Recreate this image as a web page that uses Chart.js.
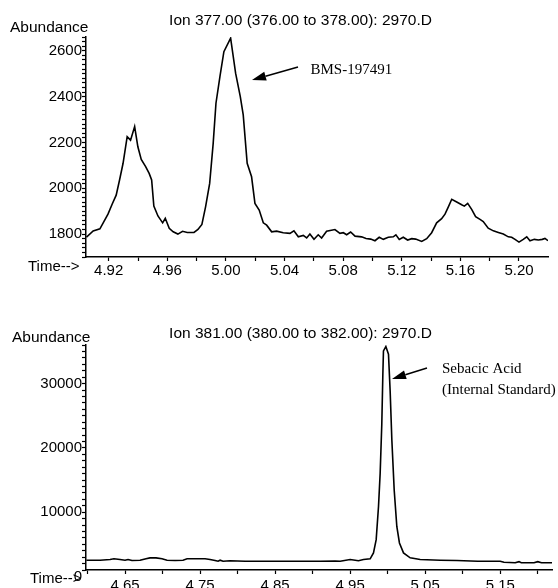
<!DOCTYPE html>
<html>
<head>
<meta charset="utf-8">
<script src="https://cdn.jsdelivr.net/npm/chart.js@4.4.0/dist/chart.umd.min.js"></script>
<style>
  html, body { margin: 0; padding: 0; background: #fff; }
  #wrap { position: relative; width: 558px; height: 588px; overflow: hidden; }
  .box { position: absolute; left: 0; width: 558px; }
  #box1 { top: 0; height: 290px; }
  #box2 { top: 290px; height: 298px; }
</style>
</head>
<body>
<div id="wrap">
  <div class="box" id="box1"><canvas id="ion377" width="558" height="290"></canvas></div>
  <div class="box" id="box2"><canvas id="ion381" width="558" height="298"></canvas></div>
</div>
<script>
// Ion 377 trace (BMS-197491)
const times377 = [4.9048, 4.9094, 4.9140, 4.9167, 4.9195, 4.9224, 4.9251, 4.9274, 4.9298, 4.9326,
    4.9349, 4.9377, 4.9399, 4.9422, 4.9452, 4.9476, 4.9493, 4.9508, 4.9536, 4.9568,
    4.9586, 4.9613, 4.9640, 4.9672, 4.9704, 4.9736, 4.9782, 4.9809, 4.9836, 4.9861,
    4.9889, 4.9913, 4.9932, 4.9959, 4.9986, 5.0032, 5.0066, 5.0098, 5.0118, 5.0145,
    5.0175, 5.0198, 5.0227, 5.0255, 5.0278, 5.0312, 5.0346, 5.0391, 5.0437, 5.0464,
    5.0494, 5.0528, 5.0551, 5.0573, 5.0601, 5.0630, 5.0653, 5.0687, 5.0744, 5.0778,
    5.0801, 5.0824, 5.0851, 5.0881, 5.0926, 5.0956, 5.0988, 5.1017, 5.1046, 5.1074,
    5.1108, 5.1142, 5.1160, 5.1183, 5.1210, 5.1240, 5.1268, 5.1295, 5.1336, 5.1370,
    5.1404, 5.1438, 5.1472, 5.1495, 5.1518, 5.1541, 5.1575, 5.1609, 5.1627, 5.1650,
    5.1677, 5.1704, 5.1734, 5.1756, 5.1790, 5.1825, 5.1859, 5.1893, 5.1927, 5.1950,
    5.1973, 5.2000, 5.2029, 5.2053, 5.2075, 5.2105, 5.2132, 5.2159, 5.2177, 5.2198];
const abundance377 = [1786, 1814, 1823, 1854, 1887, 1931, 1970, 2036, 2109, 2225,
    2210, 2269, 2181, 2126, 2094, 2065, 2036, 1922, 1879, 1849,
    1869, 1825, 1810, 1800, 1812, 1807, 1807, 1820, 1842, 1919,
    2021, 2196, 2371, 2487, 2596, 2655, 2502, 2400, 2320, 2109,
    2050, 1934, 1905, 1849, 1839, 1810, 1813, 1806, 1803, 1814,
    1788, 1794, 1783, 1800, 1777, 1797, 1783, 1812, 1820, 1803,
    1806, 1797, 1809, 1791, 1788, 1781, 1778, 1771, 1786, 1777,
    1786, 1788, 1797, 1777, 1786, 1774, 1780, 1778, 1768, 1780,
    1806, 1849, 1867, 1887, 1919, 1952, 1940, 1928, 1922, 1934,
    1908, 1876, 1864, 1855, 1826, 1814, 1807, 1800, 1788, 1786,
    1777, 1765, 1777, 1788, 1771, 1777, 1774, 1777, 1781, 1771];

// Ion 381 trace (sebacic acid, internal standard)
const times381 = [4.5985, 4.6167, 4.6300, 4.6353, 4.6433, 4.6500, 4.6540, 4.6593, 4.6700, 4.6780,
    4.6833, 4.6913, 4.6993, 4.7060, 4.7167, 4.7273, 4.7327, 4.7433, 4.7567, 4.7633,
    4.7700, 4.7740, 4.7767, 4.7807, 4.7900, 4.8100, 4.8433, 4.8833, 4.9100, 4.9300,
    4.9367, 4.9500, 4.9611, 4.9678, 4.9767, 4.9811, 4.9847, 4.9878, 4.9900, 4.9922,
    4.9936, 4.9944, 4.9976, 5.0011, 5.0033, 5.0056, 5.0087, 5.0122, 5.0157, 5.0211,
    5.0300, 5.0433, 5.0700, 5.0923, 5.1200, 5.1500, 5.1550, 5.1700, 5.1750, 5.1780,
    5.1950, 5.2000, 5.2050, 5.2190];
const abundance381 = [2520, 2520, 2630, 2740, 2630, 2520, 2630, 2470, 2520, 2740,
    2890, 2890, 2740, 2520, 2470, 2520, 2740, 2740, 2740, 2630,
    2470, 2360, 2520, 2360, 2430, 2360, 2360, 2360, 2360, 2390,
    2365, 2630, 2430, 2630, 2740, 3660, 5720, 10870, 16030, 23760,
    31480, 35090, 35760, 34570, 28900, 21170, 13450, 7770, 5210, 3660,
    2890, 2630, 2520, 2470, 2360, 2360, 2200, 2120, 2300, 2120,
    2120, 2300, 2120, 2120];

const sansFont = '"Liberation Sans", Arial, sans-serif';
const serifFont = '"Liberation Serif", "Times New Roman", serif';

function toPoints(xs, ys) {
    return xs.map((x, i) => ({x: x, y: ys[i]}));
}

function drawArrow(ctx, x1, y1, x2, y2) {
    const ang = Math.atan2(y2 - y1, x2 - x1);
    const len = 14, half = 4.5;
    const bx = x2 - Math.cos(ang) * len, by = y2 - Math.sin(ang) * len;
    ctx.beginPath();
    ctx.lineWidth = 1.5;
    ctx.strokeStyle = '#000';
    ctx.moveTo(x1, y1);
    ctx.lineTo(bx, by);
    ctx.stroke();
    ctx.beginPath();
    ctx.fillStyle = '#000';
    ctx.moveTo(x2, y2);
    ctx.lineTo(bx - Math.sin(ang) * half, by + Math.cos(ang) * half);
    ctx.lineTo(bx + Math.sin(ang) * half, by - Math.cos(ang) * half);
    ctx.closePath();
    ctx.fill();
}

function decorPlugin(id, texts, arrows) {
    return {
        id: id,
        afterDraw(chart) {
            const ctx = chart.ctx;
            ctx.save();
            ctx.fillStyle = '#000';
            ctx.textBaseline = 'alphabetic';
            texts.forEach(t => {
                ctx.font = t.font;
                ctx.textAlign = t.align || 'left';
                ctx.fillText(t.text, t.x, t.y);
            });
            arrows.forEach(a => drawArrow(ctx, a[0], a[1], a[2], a[3]));
            ctx.restore();
        }
    };
}

function drawChromatogram(canvasId, opts) {
    const ctx = document.getElementById(canvasId).getContext('2d');
    return new Chart(ctx, {
        type: 'line',
        data: {
            datasets: [{
                data: opts.points,
                borderColor: '#000',
                borderWidth: 1.6,
                pointRadius: 0,
                tension: 0,
                fill: false
            }]
        },
        options: {
            responsive: false,
            animation: false,
            layout: { padding: opts.padding },
            plugins: {
                legend: { display: false },
                tooltip: { enabled: false },
                title: { display: false }
            },
            scales: {
                x: {
                    type: 'linear',
                    min: opts.xMin,
                    max: opts.xMax,
                    afterFit: function (scale) { scale.height = opts.xHeight; },
                    border: { display: true, color: '#000', width: 1.5 },
                    grid: { drawOnChartArea: false, drawTicks: true, tickLength: 4, tickColor: '#000', tickWidth: 1.2 },
                    ticks: {
                        stepSize: opts.xStep,
                        includeBounds: false,
                        autoSkip: false,
                        maxRotation: 0,
                        padding: opts.xPad,
                        color: '#000',
                        font: { family: sansFont, size: 15 },
                        callback: opts.xLabel
                    }
                },
                y: {
                    min: opts.yMin,
                    max: opts.yMax,
                    afterFit: function (scale) { scale.width = 86; },
                    afterBuildTicks: opts.yExtra,
                    border: { display: true, color: '#000', width: 1.5 },
                    grid: {
                        drawOnChartArea: false,
                        drawTicks: true,
                        tickLength: 4,
                        tickWidth: 1.2,
                        tickColor: (c) => (c.tick && c.tick.value < opts.yMin) ? 'rgba(0,0,0,0)' : '#000'
                    },
                    ticks: {
                        stepSize: opts.yStep,
                        includeBounds: false,
                        autoSkip: false,
                        padding: 0,
                        color: '#000',
                        font: { family: sansFont, size: 15 },
                        callback: opts.yLabel
                    }
                }
            }
        },
        plugins: [opts.decor]
    });
}

drawChromatogram('ion377', {
    points: toPoints(times377, abundance377),
    padding: { left: 0, top: 37, right: 10, bottom: 0 },
    xMin: 4.9045, xMax: 5.2198, xStep: 0.02, xHeight: 33, xPad: 1,
    xLabel: function (v) { return Math.round(v * 100) % 4 === 0 ? v.toFixed(2) : ''; },
    yMin: 1700, yMax: 2660, yStep: 20,
    yLabel: function (v) { return Math.round(v) % 200 === 0 ? String(Math.round(v)) : ''; },
    yExtra: function () {},
    decor: decorPlugin('decor377', [
        { text: 'Ion 377.00 (376.00 to 378.00): 2970.D', x: 300.5, y: 25, font: '15.5px ' + sansFont, align: 'center' },
        { text: 'Abundance', x: 10, y: 31.5, font: '15.5px ' + sansFont },
        { text: 'Time-->', x: 28, y: 270.5, font: '15px ' + sansFont },
        { text: 'BMS-197491', x: 310.5, y: 74, font: '15px ' + serifFont }
    ], [[298, 67, 252, 80]])
});

drawChromatogram('ion381', {
    points: toPoints(times381, abundance381),
    padding: { left: 0, top: 55, right: 6, bottom: 0 },
    xMin: 4.598, xMax: 5.219, xStep: 0.05, xHeight: 18, xPad: 3,
    xLabel: function (v) { return Math.round(v * 100) % 10 === 5 ? v.toFixed(2) : ''; },
    yMin: 1000, yMax: 36000, yStep: 1000,
    yLabel: function (v) { return Math.round(v) % 10000 === 0 ? String(Math.round(v)) : ''; },
    // the zero label sits just below the x axis in the original plot
    yExtra: function (scale) { scale.ticks.unshift({ value: 0 }); },
    decor: decorPlugin('decor381', [
        { text: 'Ion 381.00 (380.00 to 382.00): 2970.D', x: 300.5, y: 47.5, font: '15.5px ' + sansFont, align: 'center' },
        { text: 'Abundance', x: 12, y: 52, font: '15.5px ' + sansFont },
        { text: 'Time-->', x: 30, y: 293, font: '15px ' + sansFont },
        { text: 'Sebacic Acid', x: 442, y: 83.3, font: '15px ' + serifFont },
        { text: '(Internal Standard)', x: 442, y: 104.3, font: '15px ' + serifFont }
    ], [[427, 78, 392, 89]])
});
</script>
</body>
</html>
